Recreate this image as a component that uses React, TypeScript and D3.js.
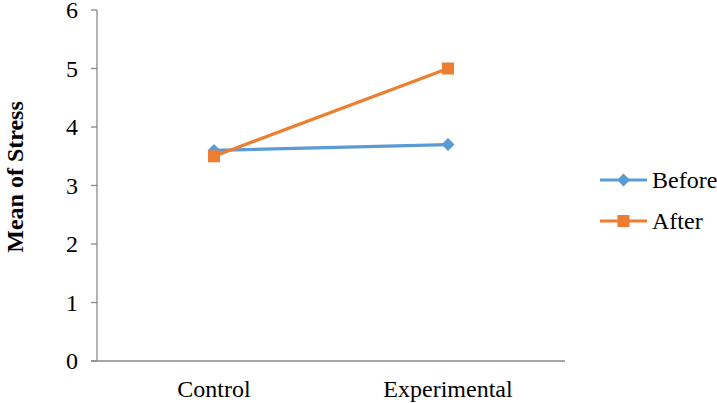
import { useRef, useEffect } from 'react'
import * as d3 from 'd3'

const CATEGORIES = ['Control', 'Experimental']
const BEFORE = [3.6, 3.7]
const AFTER = [3.5, 5.0]
const Y_TICKS = [0, 1, 2, 3, 4, 5, 6]

const SERIES = [
  { key: 'before', label: 'Before', color: '#5B9BD5', values: BEFORE, marker: 'diamond' },
  { key: 'after', label: 'After', color: '#ED7D31', values: AFTER, marker: 'square' },
]

const W = 717
const H = 403
const FONT = '"Liberation Serif", "Times New Roman", serif'

export default function App() {
  const svgRef = useRef<SVGSVGElement>(null)

  useEffect(() => {
    const el = svgRef.current
    if (!el) return
    const pad = { l: 97, r: 152, t: 10, b: 42 }

    d3.select(el).selectAll('*').remove()
    const svg = d3.select(el)

    const x = d3.scaleBand().domain(CATEGORIES).range([pad.l, W - pad.r])
    const y = d3.scaleLinear().domain([0, 6]).range([H - pad.b, pad.t])
    const axisColor = '#898989'

    // y axis
    svg.append('line')
      .attr('x1', pad.l).attr('x2', pad.l)
      .attr('y1', y(0)).attr('y2', y(6))
      .attr('stroke', axisColor).attr('stroke-width', 1.3)

    svg.selectAll('.ytick')
      .data(Y_TICKS)
      .join('line')
      .attr('class', 'ytick')
      .attr('x1', pad.l - 6).attr('x2', pad.l)
      .attr('y1', d => y(d)).attr('y2', d => y(d))
      .attr('stroke', axisColor).attr('stroke-width', 1.3)

    svg.selectAll('.ylabel')
      .data(Y_TICKS)
      .join('text')
      .attr('class', 'ylabel')
      .attr('x', 78)
      .attr('y', d => y(d) + 8)
      .attr('text-anchor', 'end')
      .attr('font-size', 24)
      .style('font-family', FONT)
      .attr('fill', '#000')
      .text(d => d)

    // x axis
    svg.append('line')
      .attr('x1', pad.l - 6).attr('x2', W - pad.r)
      .attr('y1', y(0)).attr('y2', y(0))
      .attr('stroke', axisColor).attr('stroke-width', 1.3)

    svg.selectAll('.xlabel')
      .data(CATEGORIES)
      .join('text')
      .attr('class', 'xlabel')
      .attr('x', d => (x(d) ?? 0) + x.bandwidth() / 2)
      .attr('y', 397)
      .attr('text-anchor', 'middle')
      .attr('font-size', 24)
      .style('font-family', FONT)
      .attr('fill', '#000')
      .text(d => d)

    // axis title
    svg.append('text')
      .attr('transform', `translate(23,177) rotate(-90)`)
      .attr('text-anchor', 'middle')
      .attr('font-size', 24)
      .attr('font-weight', 'bold')
      .style('font-family', FONT)
      .attr('fill', '#000')
      .text('Mean of Stress')

    const cx = (c: string) => (x(c) ?? 0) + x.bandwidth() / 2
    const line = d3.line<number>()
      .x((_, i) => cx(CATEGORIES[i]))
      .y(d => y(d))

    const drawMarker = (g: any, kind: string, px: number, py: number, color: string) => {
      if (kind === 'diamond') {
        g.append('path')
          .attr('d', `M${px},${py - 6.5}L${px + 6.5},${py}L${px},${py + 6.5}L${px - 6.5},${py}Z`)
          .attr('fill', color)
      } else {
        g.append('rect')
          .attr('x', px - 6).attr('y', py - 6)
          .attr('width', 12).attr('height', 12)
          .attr('fill', color)
      }
    }

    SERIES.forEach(s => {
      const g = svg.append('g')
      g.append('path')
        .attr('d', line(s.values))
        .attr('fill', 'none')
        .attr('stroke', s.color)
        .attr('stroke-width', 3.2)
      s.values.forEach((v, i) => drawMarker(g, s.marker, cx(CATEGORIES[i]), y(v), s.color))
    })

    // legend
    SERIES.forEach((s, i) => {
      const ly = 180 + i * 41
      const g = svg.append('g')
      g.append('line')
        .attr('x1', 600).attr('x2', 647)
        .attr('y1', ly).attr('y2', ly)
        .attr('stroke', s.color).attr('stroke-width', 3.2)
      drawMarker(g, s.marker, 623.5, ly, s.color)
      g.append('text')
        .attr('x', 652)
        .attr('y', ly + 8)
        .attr('font-size', 24)
        .style('font-family', FONT)
        .attr('fill', '#000')
        .text(s.label)
    })
  }, [])

  return (
    <svg ref={svgRef} width={W} height={H}
      style={{ position: 'absolute', left: 0, top: 0, background: '#fff' }} />
  )
}
